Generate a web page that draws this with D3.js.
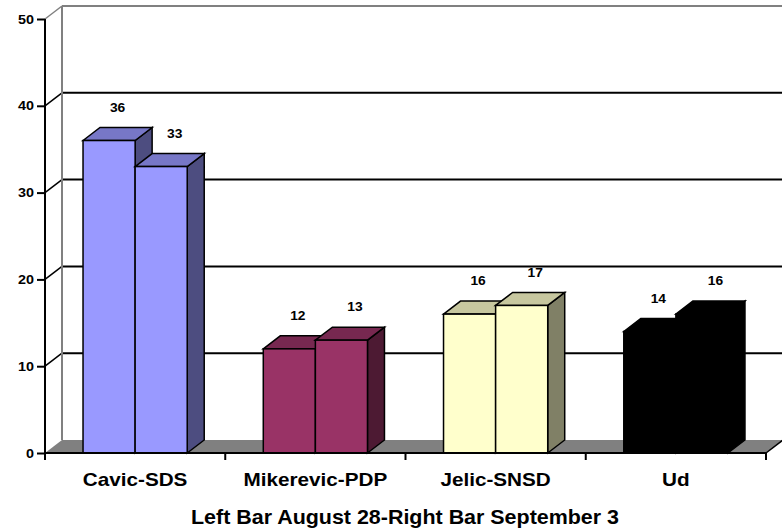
<!DOCTYPE html>
<html>
<head>
<meta charset="utf-8">
<script src="https://cdn.jsdelivr.net/npm/d3@7"></script>
<style>
  body { margin: 0; background: #fff; }
  text { font-family: "Liberation Sans", Arial, sans-serif; font-weight: bold; fill: #000; }
</style>
</head>
<body>
<svg id="chart" width="782" height="532"></svg>
<script>
// Poll results: left bar August 28, right bar September 3
const categories = ["Cavic-SDS", "Mikerevic-PDP", "Jelic-SNSD", "Ud"];
const series = ["August 28", "September 3"];
const aug28 = [36, 12, 16, 14];
const sep3 = [33, 13, 17, 16];
const yTicks = [0, 10, 20, 30, 40, 50];
const barColors = ["#9999FF", "#993366", "#FFFFCC", "#000000"];
const axisTitle = "Left Bar August 28-Right Bar September 3";

const svg = d3.select("#chart");
const DX = 17, DY = -13;          // depth offset of the 3D box
const SX = 1.15;                  // horizontal text stretch

const y = d3.scaleLinear().domain([0, 50]).range([453, 19]);
const x = d3.scaleBand().domain(categories).range([45, 766]);
const xs = d3.scaleBand().domain(series).range([0, x.bandwidth()]).paddingOuter(0.73);

const x0 = x.range()[0], x1 = x.range()[1];
const yBase = y(0), yTop = y(50);

// back wall
svg.append("rect").attr("x", x0 + DX).attr("y", yTop + DY)
  .attr("width", 782 - x0 - DX).attr("height", yBase - yTop).attr("fill", "#fff");

// gridlines on back wall and diagonals on the side wall
yTicks.filter(v => v > 0).forEach(v => {
  const col = v === 50 ? "#808080" : "#000";
  svg.append("line").attr("x1", x0 + DX).attr("x2", 782).attr("y1", y(v) + DY).attr("y2", y(v) + DY)
    .attr("stroke", col).attr("stroke-width", 2);
  svg.append("line").attr("x1", x0).attr("y1", y(v)).attr("x2", x0 + DX).attr("y2", y(v) + DY)
    .attr("stroke", col).attr("stroke-width", 1.5);
});
// back wall left edge
svg.append("line").attr("x1", x0 + DX).attr("x2", x0 + DX).attr("y1", yTop + DY).attr("y2", yBase + DY)
  .attr("stroke", "#808080").attr("stroke-width", 2);

// floor
svg.append("polygon")
  .attr("points", [[x0, yBase], [x0 + DX, yBase + DY], [x1 + DX, yBase + DY], [x1, yBase]].join(" "))
  .attr("fill", "#808080");
svg.append("line").attr("x1", x1).attr("y1", yBase).attr("x2", x1 + DX).attr("y2", yBase + DY)
  .attr("stroke", "#000").attr("stroke-width", 1.5);

// bars
const data = [];
categories.forEach((c, i) => {
  data.push({ cat: c, s: series[0], v: aug28[i], color: barColors[i], k: 0 });
  data.push({ cat: c, s: series[1], v: sep3[i], color: barColors[i], k: 1 });
});

function shade(c, f) {
  const r = d3.rgb(c);
  return d3.rgb(r.r * f, r.g * f, r.b * f).formatHex();
}

const bars = svg.append("g");
data.forEach(d => {
  const bx = x(d.cat) + xs(d.s), bw = xs.bandwidth();
  const by = y(d.v), b0 = y(0);
  const g = bars.append("g").attr("stroke", "#000").attr("stroke-width", 1.5).attr("stroke-linejoin", "miter");
  // side face
  g.append("polygon").attr("points",
    [[bx + bw, b0], [bx + bw + DX, b0 + DY], [bx + bw + DX, by + DY], [bx + bw, by]].join(" "))
    .attr("fill", shade(d.color, 0.5));
  // top face
  g.append("polygon").attr("points",
    [[bx, by], [bx + DX, by + DY], [bx + bw + DX, by + DY], [bx + bw, by]].join(" "))
    .attr("fill", shade(d.color, 0.78));
  // front face
  g.append("rect").attr("x", bx).attr("y", by).attr("width", bw).attr("height", b0 - by)
    .attr("fill", d.color);
});

// value labels
svg.append("g").selectAll("text").data(data).join("text")
  .attr("transform", d => `translate(${x(d.cat) + xs(d.s) + xs.bandwidth() / 2 + DX / 2 + (d.k ? 5 : 0)},${y(d.v) + DY - 20}) scale(${SX},1)`)
  .attr("text-anchor", "middle").attr("dy", "0.35em")
  .style("font-size", "12px")
  .text(d => d.v);

// y axis
const yAxis = svg.append("g").attr("transform", `translate(${x0},0)`)
  .call(d3.axisLeft(y).tickValues(yTicks).tickSize(8).tickPadding(3));
yAxis.select(".domain").attr("stroke", "#000").attr("stroke-width", 2)
  .attr("d", `M0,${yTop}V${yBase + 7}`);
yAxis.selectAll(".tick line").attr("stroke", "#000").attr("stroke-width", 2);
yAxis.selectAll(".tick text")
  .style("font-size", "12.5px").style("font-family", "'Liberation Sans', Arial, sans-serif").style("font-weight", "bold")
  .attr("x", -11 / SX).attr("transform", `scale(${SX},1)`);

// x axis: front floor edge, boundary ticks, category labels
svg.append("line").attr("x1", x0).attr("x2", x1).attr("y1", yBase).attr("y2", yBase)
  .attr("stroke", "#000").attr("stroke-width", 2);
const bounds = categories.map(c => x(c)).concat([x1]);
svg.append("g").selectAll("line").data(bounds).join("line")
  .attr("x1", d => d).attr("x2", d => d).attr("y1", yBase).attr("y2", yBase + 7)
  .attr("stroke", "#000").attr("stroke-width", 2);

const xAxis = svg.append("g").attr("transform", `translate(0,${yBase})`)
  .call(d3.axisBottom(x).tickSize(0).tickPadding(0));
xAxis.select(".domain").remove();
xAxis.selectAll(".tick text")
  .style("font-size", "18px").style("font-family", "'Liberation Sans', Arial, sans-serif").style("font-weight", "bold")
  .attr("dy", null).attr("y", 33.5).attr("transform", `scale(${SX},1)`)
  .attr("x", 0);
xAxis.selectAll(".tick").each(function (d) {
  const cx = x(d) + x.bandwidth() / 2;
  d3.select(this).attr("transform", null)
    .select("text").attr("x", cx / SX).attr("text-anchor", "middle");
});

// axis title
svg.append("text")
  .attr("transform", `translate(405,524) scale(1.1,1)`)
  .attr("text-anchor", "middle")
  .style("font-size", "19.5px")
  .text(axisTitle);
</script>
</body>
</html>
